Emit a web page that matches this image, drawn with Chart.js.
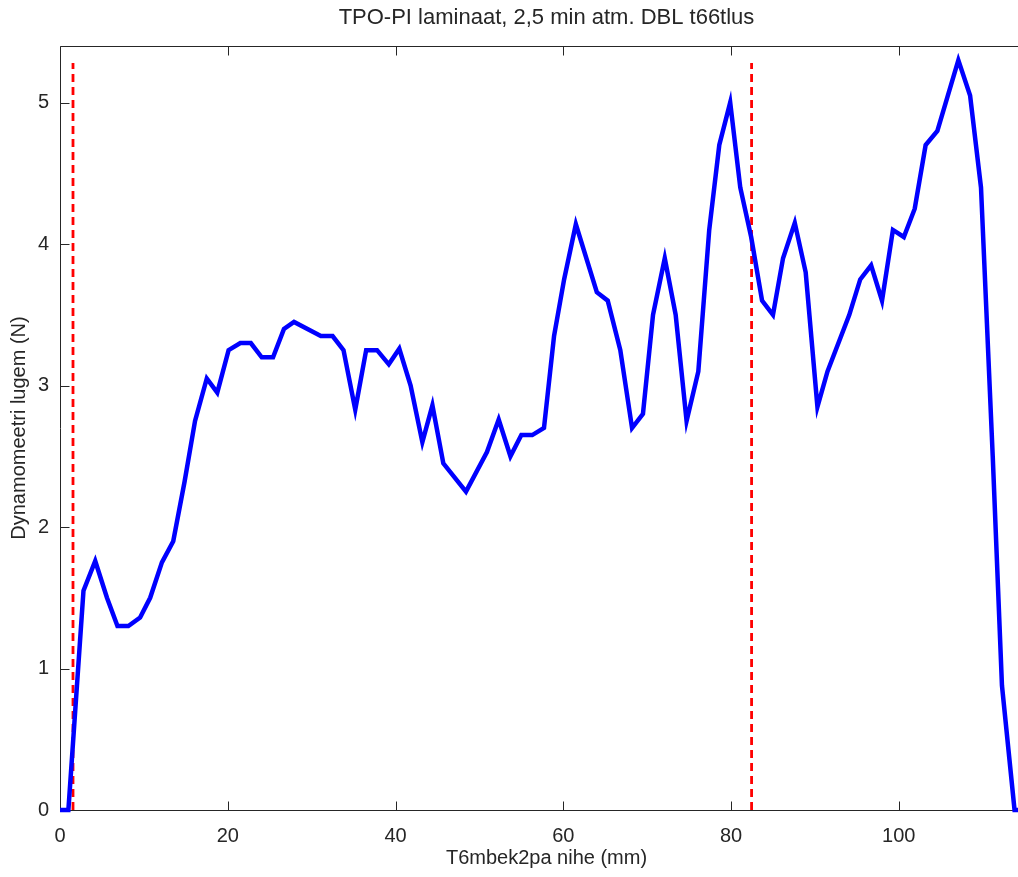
<!DOCTYPE html>
<html>
<head>
<meta charset="utf-8">
<script src="https://cdn.jsdelivr.net/npm/chart.js@4"></script>
<style>
html, body { margin:0; padding:0; background:#fff; overflow:hidden; }
#wrap { width:1036px; height:877px; }
</style>
</head>
<body>
<div id="wrap"><canvas id="chart" width="1036" height="877"></canvas></div>
<script>
// displacement (mm) and dynamometer reading (N)
const dispMm = [0, 1.0, 2.8, 4.2, 5.6, 6.85, 8.15, 9.55, 10.75, 12.15, 13.5, 14.85, 16.1, 17.5, 18.75,
  20.1, 21.5, 22.75, 24.05, 25.4, 26.7, 27.9, 31.1, 32.5, 33.8, 35.2, 36.5, 37.8, 39.2, 40.45,
  41.8, 43.2, 44.4, 45.7, 48.4, 50.9, 52.3, 53.7, 55.0, 56.3, 57.7, 58.9, 60.1, 61.5, 64.0,
  65.3, 66.8, 68.2, 69.5, 70.7, 72.1, 73.4, 74.7, 76.1, 77.4, 78.6, 79.9, 81.1, 82.4, 83.7,
  85.0, 86.2, 87.6, 88.9, 90.3, 91.5, 94.1, 95.4, 96.7, 98.0, 99.3, 100.6, 101.9, 103.2, 104.6,
  107.1, 108.5, 109.8, 111.2, 112.3, 113.8, 115];
const forceN = [0, 0, 1.55, 1.76, 1.5, 1.3, 1.3, 1.36, 1.5, 1.75, 1.9, 2.32, 2.75, 3.05, 2.95,
  3.25, 3.3, 3.3, 3.2, 3.2, 3.4, 3.45, 3.35, 3.35, 3.25, 2.83, 3.25, 3.25, 3.15, 3.26,
  3.0, 2.6, 2.86, 2.45, 2.25, 2.53, 2.76, 2.5, 2.65, 2.65, 2.7, 3.35, 3.75, 4.14, 3.66,
  3.6, 3.25, 2.7, 2.8, 3.5, 3.9, 3.5, 2.75, 3.1, 4.1, 4.7, 5.0, 4.4, 4.05, 3.6,
  3.5, 3.9, 4.15, 3.8, 2.85, 3.1, 3.5, 3.75, 3.85, 3.6, 4.1, 4.05, 4.25, 4.7, 4.8,
  5.3, 5.05, 4.4, 2.5, 0.88, 0, 0];

// red dashed marker lines
const markerX = [1.55, 82.45];
const markerTop = 5.28;

const xTicks = [0, 20, 40, 60, 80, 100];
const yTicks = [0, 1, 2, 3, 4, 5];
const xMax = 116;
const yMax = 5.4;

const FONT = "'Liberation Sans', Arial, Helvetica, sans-serif";
const INK = '#262626';

let datasets = [{
  data: dispMm.map((x, i) => ({x: x, y: forceN[i]})),
  borderColor: '#0000ff',
  borderWidth: 4.5,
  borderJoinStyle: 'miter',
  pointRadius: 0,
  tension: 0,
  clip: false,
  order: 1
}];
markerX.forEach(mx => {
  datasets.push({
    data: [{x: mx, y: 0}, {x: mx, y: markerTop}],
    borderColor: '#ff0000',
    borderWidth: 2.8,
    borderDash: [8, 5],
    pointRadius: 0,
    clip: false,
    order: 2
  });
});

/* box and inward ticks like the original axes */
const frame = {
  id: 'frame',
  beforeDatasetsDraw(chart) {
    const {ctx, chartArea: a, scales: {x, y}} = chart;
    const L = Math.round(a.left) + 0.5, R = Math.round(a.right) + 0.5;
    const T = Math.round(a.top) + 0.5, B = Math.round(a.bottom) + 0.5;
    const tl = 9;
    ctx.save();
    ctx.strokeStyle = INK;
    ctx.lineWidth = 1;
    ctx.beginPath();
    ctx.rect(L, T, R - L, B - T);
    xTicks.forEach(v => {
      const px = Math.round(x.getPixelForValue(v)) + 0.5;
      ctx.moveTo(px, B); ctx.lineTo(px, B - tl);
      ctx.moveTo(px, T); ctx.lineTo(px, T + tl);
    });
    yTicks.forEach(v => {
      const py = Math.round(y.getPixelForValue(v)) + 0.5;
      ctx.moveTo(L, py); ctx.lineTo(L + tl, py);
      ctx.moveTo(R, py); ctx.lineTo(R - tl, py);
    });
    ctx.stroke();
    ctx.restore();
  }
};

new Chart(document.getElementById('chart'), {
  type: 'line',
  data: { datasets: datasets },
  options: {
    responsive: false,
    animation: false,
    devicePixelRatio: 1,
    layout: { padding: { left: 0, right: 3, top: 0, bottom: 0 } },
    plugins: {
      legend: { display: false },
      tooltip: { enabled: false },
      title: {
        display: true,
        fullSize: false,
        text: 'TPO-PI laminaat, 2,5 min atm. DBL t66tlus',
        color: INK,
        font: { family: FONT, size: 22, weight: 'normal' },
        padding: { top: 5, bottom: 14.6 }
      }
    },
    scales: {
      x: {
        type: 'linear',
        min: 0,
        max: xMax,
        grid: { display: false },
        border: { display: false },
        afterBuildTicks: s => { s.ticks = xTicks.map(v => ({value: v})); },
        afterFit: s => { s.height = 67; },
        ticks: { color: INK, padding: 6, font: { family: FONT, size: 20 } },
        title: {
          display: true,
          text: 'T6mbek2pa nihe (mm)',
          color: INK,
          font: { family: FONT, size: 20 },
          padding: { top: 0, bottom: 7 }
        }
      },
      y: {
        type: 'linear',
        min: 0,
        max: yMax,
        grid: { display: false },
        border: { display: false },
        afterBuildTicks: s => { s.ticks = yTicks.map(v => ({value: v})); },
        afterFit: s => { s.width = 60; },
        ticks: { color: INK, padding: 3, font: { family: FONT, size: 20 } },
        title: {
          display: true,
          text: 'Dynamomeetri lugem (N)',
          color: INK,
          font: { family: FONT, size: 20 },
          padding: { top: 7, bottom: 0 }
        }
      }
    }
  },
  plugins: [frame]
});
</script>
</body>
</html>
